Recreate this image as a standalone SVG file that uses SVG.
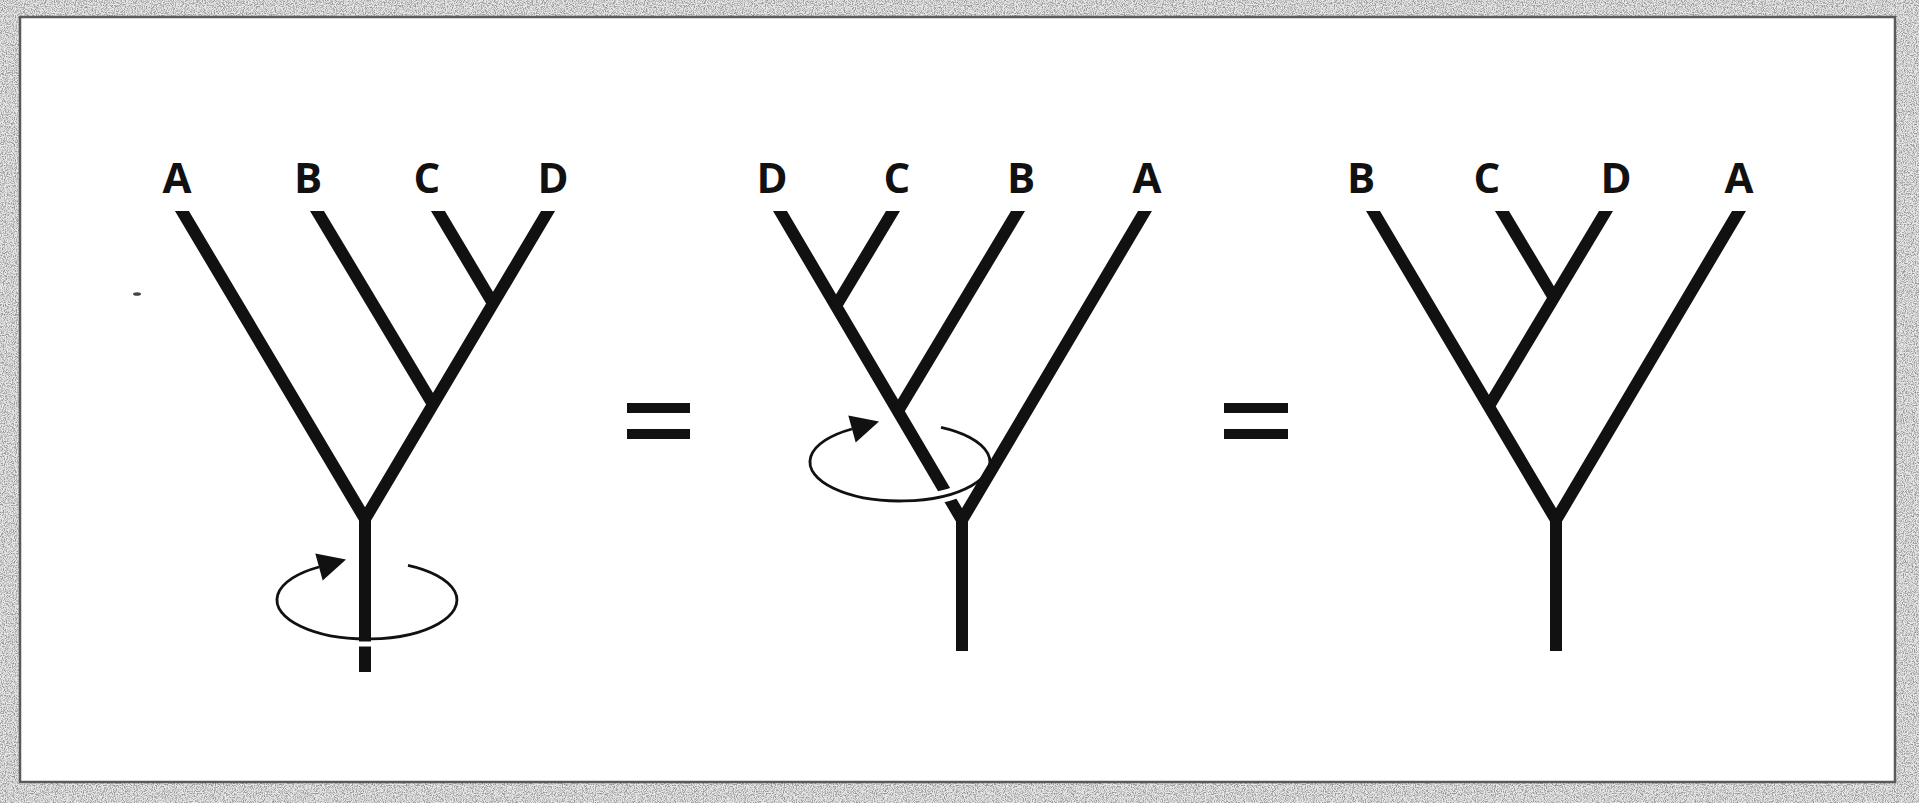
<svg xmlns="http://www.w3.org/2000/svg" width="1919" height="803" viewBox="0 0 1919 803">
  <style>
    .lbl { font-family: "Open Sans", "Noto Sans", "DejaVu Sans", sans-serif; font-weight: 700; font-size: 42px; fill: #111; text-anchor: middle; }
    .br { fill: none; stroke: #111; stroke-width: 12; stroke-linejoin: miter; stroke-linecap: butt; }
    .rot { fill: none; stroke: #111; stroke-width: 2.8; }
    .halo { fill: none; stroke: #fff; stroke-width: 12; }
    .eq { fill: #111; }
  </style>
  <defs>
    <filter id="grain" x="0" y="0" width="100%" height="100%">
      <feTurbulence type="fractalNoise" baseFrequency="0.9" numOctaves="2" seed="4"/>
      <feColorMatrix type="matrix" values="0 0 0 0 0.3  0 0 0 0 0.3  0 0 0 0 0.3  3.2 0 0 0 -1.3"/>
    </filter>
    <clipPath id="topcut">
      <rect x="0" y="211" width="1919" height="592"/>
    </clipPath>
    <g id="rotation">
      <path class="rot" d="M 41,-34.7 A 90 39 0 1 1 -48,-33"/>
      <polygon points="-21,-40.4 -51.7,-46.5 -44.3,-19.5" fill="#111"/>
    </g>
  </defs>

  <!-- scanned page background and frame -->
  <rect x="0" y="0" width="1919" height="803" fill="#e8e8e8"/>
  <rect x="0" y="0" width="1919" height="803" filter="url(#grain)"/>
  <rect x="20" y="17" width="1875" height="765" fill="#fff" stroke="#5a5a5a" stroke-width="2.5"/>
  <ellipse cx="137" cy="294" rx="4" ry="1.8" fill="#444"/>

  <!-- Tree 1 -->
  <g id="tree1">
    <g id="t1-A"><text class="lbl" x="177" y="193">A</text></g>
    <g id="t1-B"><text class="lbl" x="308" y="193">B</text></g>
    <g id="t1-C"><text class="lbl" x="427" y="193">C</text></g>
    <g id="t1-D"><text class="lbl" x="553" y="193">D</text></g>
    <g id="t1-connectors" clip-path="url(#topcut)">
      <path class="br" d="M 175.4,200 L 365,519 L 554.6,200"/>
      <path class="br" d="M 310.4,200 L 433,404.5"/>
      <path class="br" d="M 431.4,200 L 493,303.5"/>
      <path class="br" d="M 365,519 L 365,672"/>
    </g>
    <g id="t1-rotation">
      <rect x="357" y="641.5" width="16" height="5" fill="#fff"/>
      <use href="#rotation" transform="translate(367,600)"/>
    </g>
  </g>

  <!-- equals 1 -->
  <g id="eq1">
    <rect class="eq" x="627" y="403" width="63" height="10"/>
    <rect class="eq" x="627" y="429" width="63" height="10"/>
  </g>

  <!-- Tree 2 -->
  <g id="tree2">
    <g id="t2-D"><text class="lbl" x="772" y="193">D</text></g>
    <g id="t2-C"><text class="lbl" x="897" y="193">C</text></g>
    <g id="t2-B"><text class="lbl" x="1021" y="193">B</text></g>
    <g id="t2-A"><text class="lbl" x="1147" y="193">A</text></g>
    <g id="t2-connectors" clip-path="url(#topcut)">
      <path class="br" d="M 773.5,200 L 962,520 L 1151.5,200"/>
      <path class="br" d="M 899.6,200 L 836,306"/>
      <path class="br" d="M 1024.6,200 L 898,411"/>
      <path class="br" d="M 962,520 L 962,651"/>
    </g>
    <g id="t2-rotation">
      <path class="halo" d="M 936,497.8 A 90 39 0 0 0 961,490.6"/>
      <use href="#rotation" transform="translate(900,462)"/>
    </g>
  </g>

  <!-- equals 2 -->
  <g id="eq2">
    <rect class="eq" x="1224" y="403" width="64" height="10"/>
    <rect class="eq" x="1224" y="429" width="64" height="10"/>
  </g>

  <!-- Tree 3 -->
  <g id="tree3">
    <g id="t3-B"><text class="lbl" x="1361" y="193">B</text></g>
    <g id="t3-C"><text class="lbl" x="1487" y="193">C</text></g>
    <g id="t3-D"><text class="lbl" x="1616" y="193">D</text></g>
    <g id="t3-A"><text class="lbl" x="1739" y="193">A</text></g>
    <g id="t3-connectors" clip-path="url(#topcut)">
      <path class="br" d="M 1366.5,200 L 1556,520 L 1745.5,200"/>
      <path class="br" d="M 1612.6,200 L 1489,406"/>
      <path class="br" d="M 1495.4,200 L 1554,298"/>
      <path class="br" d="M 1556,520 L 1556,651"/>
    </g>
  </g>
</svg>
